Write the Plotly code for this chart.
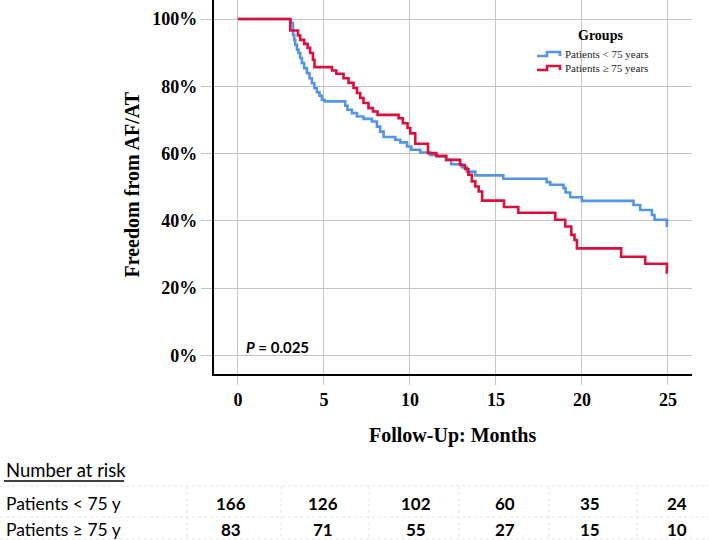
import plotly.graph_objects as go

# Kaplan-Meier curves (months, % free from AF/AT)
young_t = [0, 3.08, 3.2, 3.27, 3.33, 3.43, 3.52, 3.62, 3.72, 3.85, 4.01, 4.16, 4.3, 4.44,
           4.59, 4.74, 4.88, 5.03, 6.24, 6.37, 6.63, 6.92, 7.3, 7.79, 8.08, 8.27, 8.47,
           9.15, 9.44, 9.83, 10.08, 10.6, 11.18, 11.57, 12.1, 12.4, 13.02, 13.31, 13.8,
           15.43, 17.95, 18.16, 18.93, 19.05, 19.32, 20.0, 23.0, 23.39, 24.07, 24.22,
           24.94, 25]
young_s = [100, 98.8, 95.3, 93.8, 92.3, 90.9, 89.9, 88.4, 86.9, 85.4, 83.9, 82.4, 80.9, 79.5,
           78.2, 77.2, 76.0, 75.5, 74.2, 73.0, 72.0, 71.0, 70.3, 69.5, 68.0, 66.5, 64.9,
           64.1, 63.3, 62.1, 61.1, 60.3, 59.6, 59.1, 58.1, 56.8, 55.9, 54.6, 53.5,
           52.5, 51.5, 50.7, 49.7, 48.4, 47.0, 45.9, 44.7, 43.2, 41.7, 40.3,
           38.5, 38.5]

old_t = [0, 3.04, 3.49, 3.62, 3.85, 4.05, 4.2, 4.36, 4.45, 5.47, 5.72, 6.14, 6.43, 6.72,
         6.92, 7.11, 7.3, 7.59, 7.85, 8.12, 9.34, 9.59, 9.86, 10.02, 10.31, 11.05, 11.53,
         12.11, 12.92, 13.2, 13.4, 13.6, 13.8, 14.0, 14.2, 15.47, 16.3, 18.45, 19.03,
         19.38, 19.57, 19.71, 22.28, 23.68, 24.94, 25]
old_s = [100, 96.6, 95.1, 93.8, 92.6, 91.4, 89.9, 87.9, 85.7, 84.7, 83.7, 82.4, 81.0, 79.5,
         78.0, 76.5, 75.0, 73.5, 72.5, 71.5, 70.5, 69.0, 67.6, 66.0, 62.9, 60.1, 59.3,
         58.1, 56.6, 55.4, 53.7, 51.7, 50.2, 48.7, 46.0, 44.1, 42.4, 40.3, 38.3,
         35.8, 34.3, 31.8, 29.3, 27.2, 24.6, 24.6]

group_names = ["Patients < 75 years", "Patients \u2265 75 years"]
group_colors = ["#5494e6", "#dc0f3c"]

y_ticks = [0, 20, 40, 60, 80, 100]
x_ticks = [0, 5, 10, 15, 20, 25]

# number at risk table
row_labels = ["Patients < 75 y", "Patients \u2265 75 y"]
risk_young = [166, 126, 102, 60, 35, 24]
risk_old = [83, 71, 55, 27, 15, 10]

W, H = 709, 540
serif = "Liberation Serif"
sans = "Lato"


def px(x):
    return x / W


def py(y):
    return 1 - y / H


fig = go.Figure()

for t, s, name, col in [(young_t, young_s, group_names[0], group_colors[0]),
                        (old_t, old_s, group_names[1], group_colors[1])]:
    fig.add_trace(go.Scatter(x=t, y=s, mode="lines", name=name,
                             line=dict(color=col, width=2.6, shape="hv"),
                             showlegend=False))

fig.update_layout(
    width=W, height=H,
    margin=dict(l=0, r=0, t=0, b=0),
    paper_bgcolor="white", plot_bgcolor="white",
    xaxis=dict(domain=[px(213.5), px(692)], range=[-1.42, 26.4],
               tickvals=x_ticks, showgrid=True, gridcolor="#c4c4c4",
               gridwidth=1, zeroline=False, showline=True, linecolor="black", linewidth=1.5,
               ticks="outside", ticklen=9, tickcolor="#c4c4c4",
               tickfont=dict(family=serif, size=18, color="black", weight="bold")),
    yaxis=dict(domain=[py(374), 1], range=[-5.57, 105.65],
               tickvals=y_ticks, ticktext=[f"{v}%" for v in y_ticks], showgrid=True,
               gridcolor="#c4c4c4", gridwidth=1, zeroline=False, showline=True,
               linecolor="black", linewidth=1.5, ticks="outside", ticklen=11,
               tickcolor="#c4c4c4",
               tickfont=dict(family=serif, size=18, color="black", weight="bold")),
)

ann = []
# axis titles
ann.append(dict(x=px(131.5), y=py(185), text="Freedom from AF/AT", textangle=-90,
                font=dict(family=serif, size=20, color="black", weight="bold")))
ann.append(dict(x=px(452.5), y=py(435), text="Follow-Up: Months",
                font=dict(family=serif, size=20, color="black", weight="bold")))
# p-value
ann.append(dict(x=px(244), y=py(347), text="<i>P</i> = 0.025", xanchor="left",
                font=dict(family=sans, size=15, color="black", weight="bold")))
# legend
ann.append(dict(x=px(600), y=py(36), text="Groups",
                font=dict(family=serif, size=14, color="black", weight="bold")))
shapes = []
for i, (name, col) in enumerate(zip(group_names, group_colors)):
    yy = 56 + i * 14
    ann.append(dict(x=px(563), y=py(yy - 2), text=name, xanchor="left",
                    font=dict(family=serif, size=11, color="#222")))
    shapes.append(dict(type="path", xref="paper", yref="paper",
                       path=f"M{px(537)},{py(yy)} H{px(547)} V{py(yy - 4)} H{px(560)} V{py(yy)}",
                       line=dict(color=col, width=2.6)))

# number at risk table
col_x = [231, 323, 416, 505, 590, 677]
sep_x = [187, 281, 369, 459, 549, 637]
row_y = [503, 529]
ann.append(dict(x=px(4), y=py(470), text="Number at risk", xanchor="left",
                font=dict(family=sans, size=18.5, color="black")))
shapes.append(dict(type="line", xref="paper", yref="paper", x0=px(4), x1=px(124),
                   y0=py(481), y1=py(481), line=dict(color="black", width=1.3)))
for r, (lab, vals) in enumerate(zip(row_labels, [risk_young, risk_old])):
    ann.append(dict(x=px(4), y=py(row_y[r]), text=lab, xanchor="left",
                    font=dict(family=sans, size=17.5, color="black")))
    for cx, v in zip(col_x, vals):
        ann.append(dict(x=px(cx), y=py(row_y[r]), text=str(v),
                        font=dict(family=sans, size=17, color="black", weight="bold")))
for yl in [486, 517, 539]:
    shapes.append(dict(type="line", xref="paper", yref="paper", x0=0, x1=1,
                       y0=py(yl), y1=py(yl), line=dict(color="#e4e4e4", width=1, dash="dot")))
for xl in sep_x:
    shapes.append(dict(type="line", xref="paper", yref="paper", x0=px(xl), x1=px(xl),
                       y0=py(486), y1=py(540), line=dict(color="#e4e4e4", width=1, dash="dot")))

for a in ann:
    a.setdefault("xanchor", "center")
    a.update(xref="paper", yref="paper", showarrow=False, yanchor="middle")
fig.update_layout(annotations=ann, shapes=shapes)

# the page's default body margin would shift the figure by 8px
fig.write_html("out.html", config={"displayModeBar": False},
               post_script="document.body.style.margin='0';")
